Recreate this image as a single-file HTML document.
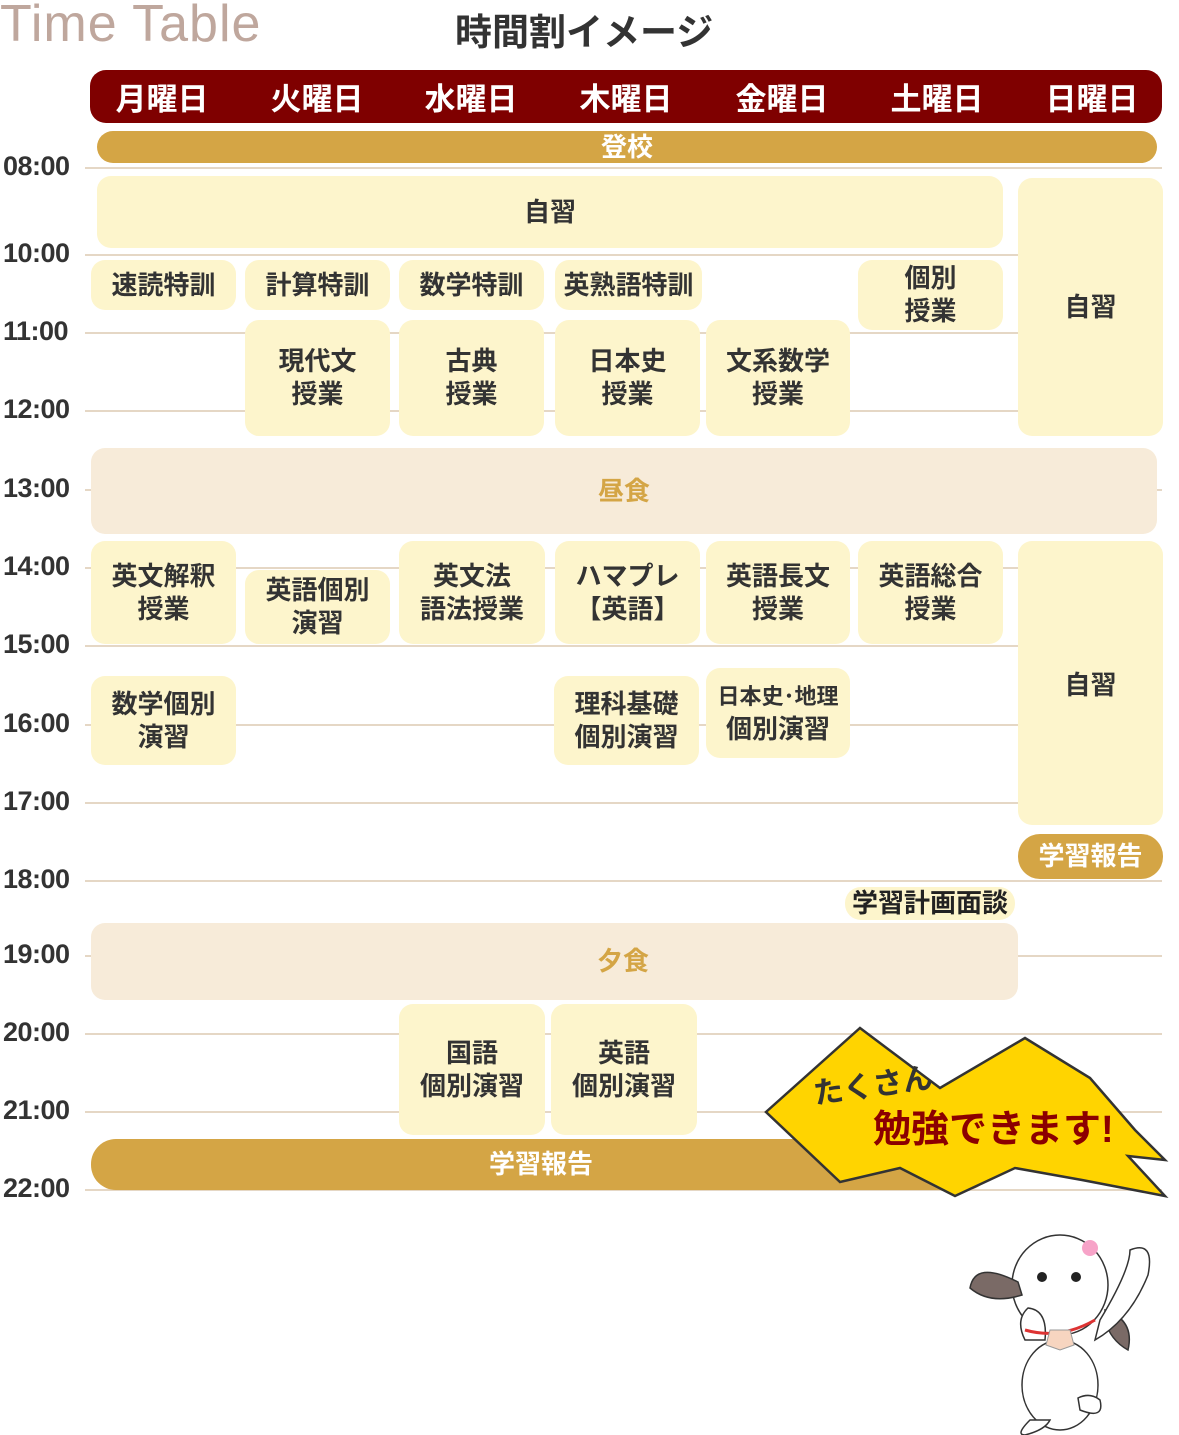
<!DOCTYPE html>
<html><head><meta charset="utf-8">
<style>
*{margin:0;padding:0;box-sizing:border-box}
body{width:1179px;height:1435px;background:#fff;position:relative;overflow:hidden;font-family:"Liberation Sans","Noto Sans CJK JP",sans-serif;font-weight:bold;color:#333}
.a{position:absolute}
.ln{position:absolute;left:85px;width:1077px;height:2px;background:#e5d7c5}
.t{position:absolute;left:3px;font-size:27px;color:#333;font-weight:bold;letter-spacing:-0.5px}
.b{position:absolute;background:#fdf5cc;border-radius:14px;display:flex;align-items:center;justify-content:center;text-align:center;font-size:26px;line-height:33px;color:#333}
.g{background:#d4a545;color:#fff;border-radius:20px}
.l{background:#f7ebd9;color:#d4a545}
.hd{position:absolute;left:90px;top:70px;width:1072px;height:53px;background:#7f0000;border-radius:16px}
.hd span{position:absolute;top:4px;font-size:31px;color:#fff;width:150px;text-align:center}
</style></head><body>
<div class="a" style="left:0;top:-6px;font-size:52px;color:#bfa79d;font-weight:normal;letter-spacing:1px">Time Table</div>
<div class="a" style="left:455px;top:2px;font-size:37px;color:#333">時間割イメージ</div>
<div class="hd">
<span style="left:-3px">月曜日</span><span style="left:152px">火曜日</span><span style="left:306px">水曜日</span><span style="left:461px">木曜日</span><span style="left:617px">金曜日</span><span style="left:772px">土曜日</span><span style="left:927px">日曜日</span>
</div>
<div class="ln" style="top:167px"></div><div class="t" style="top:151px">08:00</div>
<div class="ln" style="top:254px"></div><div class="t" style="top:238px">10:00</div>
<div class="ln" style="top:332px"></div><div class="t" style="top:316px">11:00</div>
<div class="ln" style="top:410px"></div><div class="t" style="top:394px">12:00</div>
<div class="ln" style="top:489px"></div><div class="t" style="top:473px">13:00</div>
<div class="ln" style="top:567px"></div><div class="t" style="top:551px">14:00</div>
<div class="ln" style="top:645px"></div><div class="t" style="top:629px">15:00</div>
<div class="ln" style="top:724px"></div><div class="t" style="top:708px">16:00</div>
<div class="ln" style="top:802px"></div><div class="t" style="top:786px">17:00</div>
<div class="ln" style="top:880px"></div><div class="t" style="top:864px">18:00</div>
<div class="ln" style="top:955px"></div><div class="t" style="top:939px">19:00</div>
<div class="ln" style="top:1033px"></div><div class="t" style="top:1017px">20:00</div>
<div class="ln" style="top:1111px"></div><div class="t" style="top:1095px">21:00</div>
<div class="ln" style="top:1189px"></div><div class="t" style="top:1173px">22:00</div>

<div class="b g" style="left:97px;top:131px;width:1060px;height:32px;border-radius:16px">登校</div>
<div class="b" style="left:97px;top:176px;width:906px;height:72px">自習</div>
<div class="b" style="left:1018px;top:178px;width:145px;height:258px">自習</div>
<div class="b" style="left:91px;top:260px;width:145px;height:50px">速読特訓</div>
<div class="b" style="left:245px;top:260px;width:145px;height:50px">計算特訓</div>
<div class="b" style="left:399px;top:260px;width:145px;height:50px">数学特訓</div>
<div class="b" style="left:555px;top:260px;width:147px;height:50px">英熟語特訓</div>
<div class="b" style="left:858px;top:260px;width:145px;height:70px">個別<br>授業</div>
<div class="b" style="left:245px;top:320px;width:145px;height:116px">現代文<br>授業</div>
<div class="b" style="left:399px;top:320px;width:145px;height:116px">古典<br>授業</div>
<div class="b" style="left:555px;top:320px;width:145px;height:116px">日本史<br>授業</div>
<div class="b" style="left:706px;top:320px;width:144px;height:116px">文系数学<br>授業</div>
<div class="b l" style="left:91px;top:448px;width:1066px;height:86px">昼食</div>
<div class="b" style="left:91px;top:541px;width:145px;height:103px">英文解釈<br>授業</div>
<div class="b" style="left:245px;top:570px;width:145px;height:74px">英語個別<br>演習</div>
<div class="b" style="left:399px;top:541px;width:146px;height:103px">英文法<br>語法授業</div>
<div class="b" style="left:555px;top:541px;width:145px;height:103px">ハマプレ<br>【英語】</div>
<div class="b" style="left:706px;top:541px;width:144px;height:103px">英語長文<br>授業</div>
<div class="b" style="left:858px;top:541px;width:145px;height:103px">英語総合<br>授業</div>
<div class="b" style="left:1018px;top:541px;width:145px;height:284px;align-items:flex-start;padding-top:128px">自習</div>
<div class="b" style="left:91px;top:676px;width:145px;height:89px">数学個別<br>演習</div>
<div class="b" style="left:554px;top:676px;width:145px;height:89px">理科基礎<br>個別演習</div>
<div class="b" style="left:706px;top:668px;width:144px;height:90px;font-size:22px"><div>日本史･地理<br><span style="font-size:26px">個別演習</span></div></div>
<div class="b g" style="left:1018px;top:834px;width:145px;height:45px;border-radius:22px">学習報告</div>
<div class="b" style="left:845px;top:887px;width:170px;height:33px;border-radius:16px;color:#222">学習計画面談</div>
<div class="b l" style="left:91px;top:923px;width:927px;height:77px;justify-content:flex-start;padding-left:506px">夕食</div>
<div class="b" style="left:399px;top:1004px;width:146px;height:131px">国語<br>個別演習</div>
<div class="b" style="left:551px;top:1004px;width:146px;height:131px">英語<br>個別演習</div>
<div class="b g" style="left:91px;top:1139px;width:900px;height:51px;border-radius:25px;justify-content:flex-start;padding-left:398px">学習報告</div>

<svg class="a" style="left:760px;top:1020px" width="419" height="415" viewBox="0 0 419 415">
<polygon points="100,8 180,68 265,18 330,58 375,110 405,140 368,136 405,176 322,160 255,148 195,176 140,148 80,162 6,92" fill="#ffd400" stroke="#333" stroke-width="2.5"/>
<text x="55" y="84" font-size="30" fill="#333" font-family="Liberation Sans,Noto Sans CJK JP,sans-serif" font-weight="bold" transform="rotate(-8 55 84)">たくさん</text>
<text x="113" y="122" font-size="38" fill="#8b0000" font-family="Liberation Sans,Noto Sans CJK JP,sans-serif" font-weight="bold">勉強できます!</text>
<g stroke="#333" stroke-width="1.5" fill="#fff">
<ellipse cx="300" cy="365" rx="38" ry="45"/>
<ellipse cx="300" cy="265" rx="48" ry="50"/>
<path d="M258 262 Q215 240 210 268 Q230 285 262 275 Z" fill="#7a6a66"/>
<path d="M345 290 Q375 300 368 330 Q350 320 345 300 Z" fill="#7a6a66"/>
<path d="M340 300 Q370 250 370 230 Q395 220 388 255 Q370 300 335 320Z"/>
<path d="M265 320 Q255 300 268 288 Q288 290 285 320Z"/>
<path d="M270 400 Q255 415 265 415 Q285 410 290 400Z"/>
<path d="M320 390 Q345 400 340 380 Q330 372 318 378Z"/>
</g>
<circle cx="282" cy="257" r="5" fill="#222"/><circle cx="316" cy="257" r="5" fill="#222"/>
<circle cx="330" cy="228" r="8" fill="#f7a3c8"/>
<path d="M265 310 Q300 320 335 300" stroke="#d33" stroke-width="3" fill="none"/>
<polygon points="290,310 310,310 314,325 300,330 286,325" fill="#f7d5c0" stroke="#999"/>
</svg>
</body></html>
